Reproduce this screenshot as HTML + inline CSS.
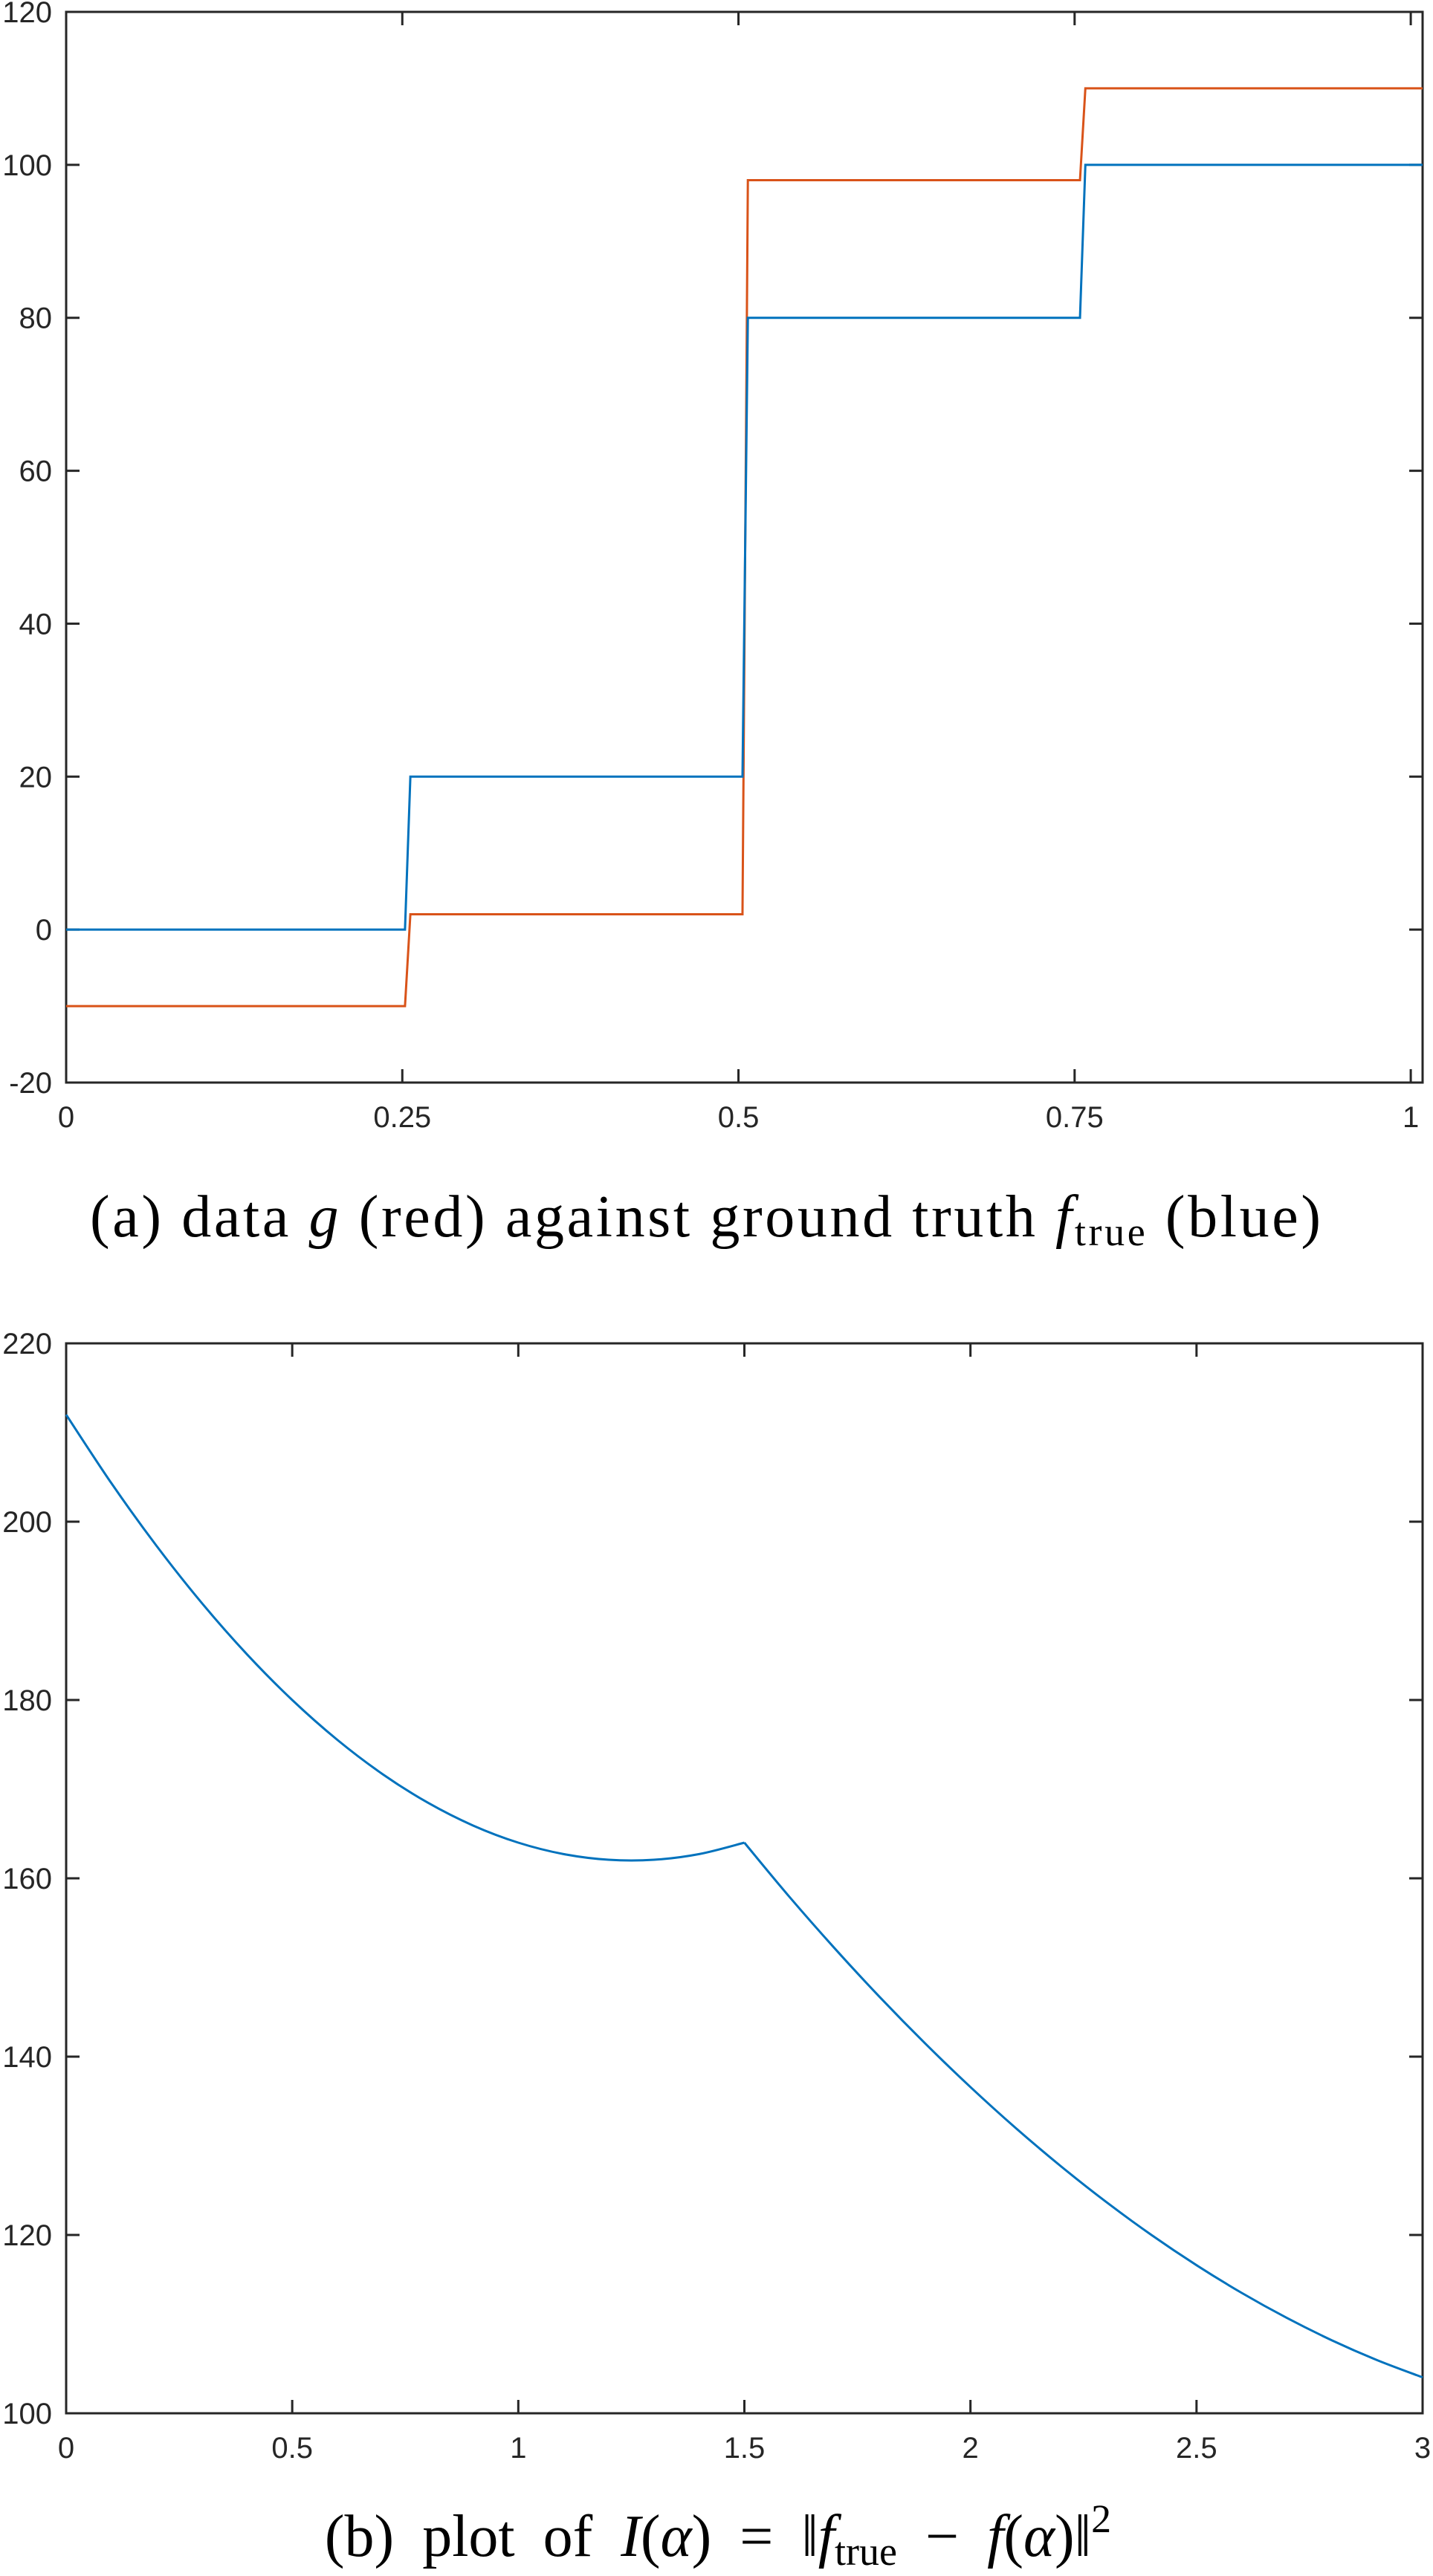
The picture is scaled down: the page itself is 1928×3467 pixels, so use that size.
<!DOCTYPE html>
<html><head><meta charset="utf-8"><style>
html,body{margin:0;padding:0;background:#fff;}
svg{display:block;}
.tk{font-family:"Liberation Sans",Arial,sans-serif;font-size:40px;fill:#262626;}
.cap{font-family:"Liberation Serif","DejaVu Serif",serif;font-size:80px;fill:#000;}
</style></head><body>
<svg id="fig" width="1928" height="3467" viewBox="0 0 1928 3467" xmlns="http://www.w3.org/2000/svg">
<g id="top"></g>
<g id="bot"></g>
<text class="cap" x="121" y="1664" textLength="1656" lengthAdjust="spacing">(a) data <tspan font-style="italic">g</tspan> (red) against ground truth <tspan font-style="italic">f</tspan><tspan font-size="54px" dy="12">true</tspan><tspan dy="-12"> (blue)</tspan></text>
<text class="cap" x="966" y="3440" text-anchor="middle" word-spacing="18">(b) plot of <tspan font-style="italic">I</tspan>(<tspan font-style="italic">α</tspan>) = ‖<tspan font-style="italic">f</tspan><tspan font-size="54px" dy="12">true</tspan><tspan dy="-12"> − </tspan><tspan font-style="italic">f</tspan>(<tspan font-style="italic">α</tspan>)‖<tspan font-size="54px" dy="-32">2</tspan></text>
</svg>
<script>
// Plot (a) data
const aXTicks = [0, 0.25, 0.5, 0.75, 1];
const aXTickLabels = ["0", "0.25", "0.5", "0.75", "1"];
const aYTicks = [-20, 0, 20, 40, 60, 80, 100, 120];
const aBreaks = [0, 0.252, 0.503, 0.754, 1.0088];
const blueLevels = [0, 20, 80, 100];
const redLevels = [-10, 2, 98, 110];
const aJump = 0.004;
// Plot (b) data
const bXTicks = [0, 0.5, 1, 1.5, 2, 2.5, 3];
const bXTickLabels = ["0", "0.5", "1", "1.5", "2", "2.5", "3"];
const bYTicks = [100, 120, 140, 160, 180, 200, 220];
const alphaVals = [0,0.1,0.2,0.3,0.4,0.5,0.6,0.7,0.8,0.9,1.0,1.1,1.2,1.3,1.4,1.5,1.6,1.7,1.8,1.9,2.0,2.1,2.2,2.3,2.4,2.5,2.6,2.7,2.8,2.9,3.0];
const iVals = [212,204.32,197.28,190.88,185.12,180,175.52,171.68,168.48,165.92,164,162.72,162.08,162.08,162.72,164,157.9,152.13,146.65,141.47,136.59,132.0,127.71,123.71,120.01,116.61,113.5,110.69,108.17,105.95,104.03];
const kinkIndex = 15;

const NS = "http://www.w3.org/2000/svg";
function mk(parent, tag, attrs){
  const e = document.createElementNS(NS, tag);
  for (const k in attrs) e.setAttribute(k, attrs[k]);
  parent.appendChild(e);
  return e;
}
function axes(g, L, T, R, B, xs, ys, xt, xtl, yt, prefix){
  const X = v => L + (v - xs[0]) / (xs[1] - xs[0]) * (R - L);
  const Y = v => B - (v - ys[0]) / (ys[1] - ys[0]) * (B - T);
  const box = mk(g, "rect", {x:L, y:T, width:R-L, height:B-T, fill:"none", stroke:"#262626", "stroke-width":3});
  
  
  xt.forEach((v, i) => {
    const x = X(v);
    const t1 = mk(g, "line", {x1:x, y1:B, x2:x, y2:B-18, stroke:"#262626", "stroke-width":3});
    
    
    const t2 = mk(g, "line", {x1:x, y1:T, x2:x, y2:T+18, stroke:"#262626", "stroke-width":3});
    
    
    const tx = mk(g, "text", {x:x, y:B+60, "text-anchor":"middle", class:"tk"});
    tx.textContent = xtl[i];
    
    
  });
  yt.forEach(v => {
    const y = Y(v);
    const t1 = mk(g, "line", {x1:L, y1:y, x2:L+18, y2:y, stroke:"#262626", "stroke-width":3});
    
    
    const t2 = mk(g, "line", {x1:R, y1:y, x2:R-18, y2:y, stroke:"#262626", "stroke-width":3});
    
    
    const tx = mk(g, "text", {x:70, y:y+14, "text-anchor":"end", class:"tk"});
    tx.textContent = String(v);
    
    
  });
  return {X, Y};
}
function steps(breaks, levels){
  const pts = [[breaks[0], levels[0]]];
  for (let i = 0; i < levels.length; i++){
    if (i > 0) pts.push([breaks[i] + aJump, levels[i]]);
    pts.push([breaks[i+1], levels[i]]);
  }
  return pts;
}
function smoothPath(P){
  let d = "M" + P[0][0] + "," + P[0][1];
  for (let i = 0; i < P.length - 1; i++){
    const p0 = P[Math.max(0, i-1)], p1 = P[i], p2 = P[i+1], p3 = P[Math.min(P.length-1, i+2)];
    const c1x = p1[0] + (p2[0]-p0[0])/6, c1y = p1[1] + (p2[1]-p0[1])/6;
    const c2x = p2[0] - (p3[0]-p1[0])/6, c2y = p2[1] - (p3[1]-p1[1])/6;
    d += " C" + c1x + "," + c1y + " " + c2x + "," + c2y + " " + p2[0] + "," + p2[1];
  }
  return d;
}
const gt = document.getElementById("top");
const A = axes(gt, 89, 16, 1914, 1457, [0, 1.0088], [-20, 120], aXTicks, aXTickLabels, aYTicks, "a");
const redPts = steps(aBreaks, redLevels), bluePts = steps(aBreaks, blueLevels);
const redLine = mk(gt, "polyline", {points: redPts.map(p => A.X(p[0]) + "," + A.Y(p[1])).join(" "), fill:"none", stroke:"#D95319", "stroke-width":3});


const blueLine = mk(gt, "polyline", {points: bluePts.map(p => A.X(p[0]) + "," + A.Y(p[1])).join(" "), fill:"none", stroke:"#0072BD", "stroke-width":3});



const gb = document.getElementById("bot");
const B = axes(gb, 89, 1808, 1914, 3248, [0, 3], [100, 220], bXTicks, bXTickLabels, bYTicks, "b");
const px = alphaVals.map((a, i) => [B.X(a), B.Y(iVals[i])]);
const seg1 = px.slice(0, kinkIndex + 1), seg2 = px.slice(kinkIndex);
const iLine = mk(gb, "path", {d: smoothPath(seg1) + " " + smoothPath(seg2), fill:"none", stroke:"#0072BD", "stroke-width":3, "stroke-linejoin":"round"});


</script>
</body></html>
